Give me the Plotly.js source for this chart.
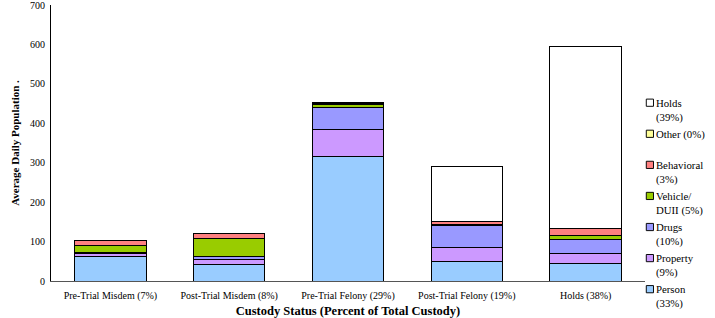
<!DOCTYPE html>
<html><head><meta charset="utf-8">
<script src="https://cdn.plot.ly/plotly-3.0.1.min.js"></script>
<style>body{margin:0;background:#fff}#chart{width:715px;height:318px}</style>
</head><body><div id="chart"></div>
<script>
const categories = ["Pre-Trial Misdem (7%)", "Post-Trial Misdem (8%)", "Pre-Trial Felony (29%)", "Post-Trial Felony (19%)", "Holds (38%)"];
const person     = [63, 43, 317, 49, 45];
const property   = [7, 12, 66, 37, 24];
const drugs      = [3, 7, 58, 55, 37];
const vehicle    = [16, 45, 7, 3, 10];
const behavioral = [13, 14, 3, 6, 17];
const other      = [0, 0, 1, 0, 0];
const holds      = [0, 0, 0, 140, 461];
const seriesNames = ["Person<br>(33%)", "Property<br>(9%)", "Drugs<br>(10%)", "Vehicle/<br>DUII (5%)", "Behavioral<br>(3%)", "Other (0%)<br>&nbsp;", "Holds<br>(39%)"];
const seriesColors = ["#99CCFF", "#CC99FF", "#9999FF", "#99CC00", "#FF8080", "#FFFF99", "#FFFFFF"];
const seriesValues = [person, property, drugs, vehicle, behavioral, other, holds];

const traces = seriesValues.map((vals, i) => ({
  type: 'bar', x: categories, y: vals, name: seriesNames[i],
  marker: {color: seriesColors[i], line: {color: '#000', width: 1}},
  hoverinfo: 'y+name'
}));

const font = {family: '"Liberation Serif", "Times New Roman", serif', color: '#000'};
const layout = {
  width: 715, height: 318,
  margin: {l: 51, r: 70, t: 5, b: 37, autoexpand: false},
  barmode: 'stack', bargap: 0.4,
  paper_bgcolor: '#fff', plot_bgcolor: '#fff',
  font: Object.assign({size: 10}, font),
  showlegend: true,
  legend: {x: 0.951, y: 0.695, xanchor: 'left', yanchor: 'top', traceorder: 'reversed',
           valign: 'top',
           font: Object.assign({size: 10.8}, font), itemwidth: 30, tracegroupgap: 0,
           bgcolor: 'rgba(0,0,0,0)'},
  xaxis: {showline: true, linecolor: '#555', linewidth: 1, ticks: '', automargin: false,
          ticklabelstandoff: 5,
          tickfont: Object.assign({size: 10}, font),
          title: {text: '<b>Custody Status (Percent of Total Custody)</b>', font: Object.assign({size: 12.5}, font), standoff: 8}},
  yaxis: {range: [0, 700], tickvals: [0,100,200,300,400,500,600,700], showgrid: false, zeroline: false, showline: true,
          linecolor: '#000', linewidth: 1, ticks: '', automargin: false,
          ticklabelstandoff: 3, ticklabeloverflow: 'allow',
          tickfont: Object.assign({size: 10}, font),
          title: {text: '<b>Average Daily Population .</b>', font: Object.assign({size: 11}, font), standoff: 8}}
};
Plotly.newPlot('chart', traces, layout, {displayModeBar: false, staticPlot: true}).then(gd => {
  gd.querySelectorAll('.legend .legendpoints path').forEach(p => {
    p.setAttribute('transform', 'translate(34,0) scale(0.6)');
    p.style.strokeWidth = '1.6px';
  });
});
</script></body></html>
